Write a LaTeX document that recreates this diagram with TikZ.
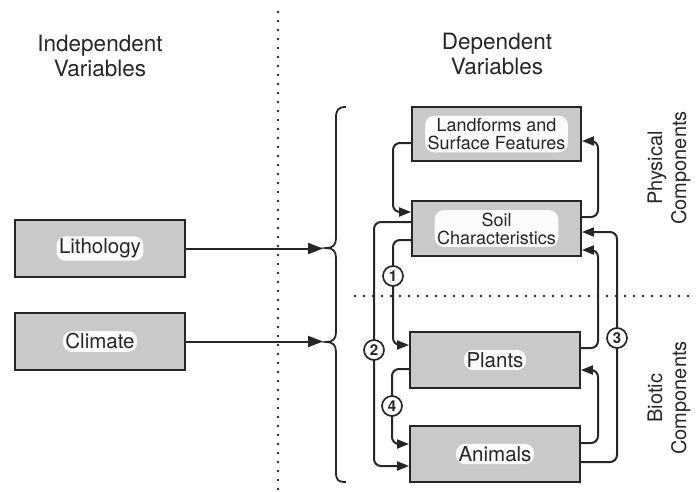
\documentclass[tikz,border=0pt]{standalone}
\usepackage{fontspec}
\setmainfont{TeX Gyre Heros}
\usetikzlibrary{arrows.meta}
\definecolor{ink}{HTML}{262626}
\definecolor{boxfill}{HTML}{C9C9C9}
\tikzset{
  box/.style={draw=ink, line width=1.9pt, fill=boxfill, inner sep=0pt},
  halo/.style={fill=white!93!boxfill, rounded corners=9pt, inner sep=2.5pt, text=ink, align=center},
  conn/.style={draw=ink, line width=2pt, rounded corners=7pt, -{Triangle[length=12pt,width=9pt]}},
  bigarrow/.style={draw=ink, line width=2pt, -{Triangle[length=15pt,width=11pt]}},
  numlabel/.style={circle, draw=ink, line width=1.7pt, fill=white, minimum size=20pt, inner sep=0pt, font=\fontsize{15}{15}\selectfont\bfseries, text=ink},
  dots/.style={draw=ink, line width=2.6pt, line cap=round, dash pattern=on 0pt off 9pt},
  head/.style={text=ink, align=center, font=\fontsize{22.5}{25}\selectfont},
  side/.style={text=ink, align=center, rotate=90, font=\fontsize{20}{24}\selectfont},
  bigtxt/.style={font=\fontsize{20.5}{22}\selectfont},
  smalltxt/.style={font=\fontsize{18}{18}\selectfont}
}
\begin{document}
\begin{tikzpicture}[x=1pt, y=-1pt]
\useasboundingbox (0,0) rectangle (696,491);

% dotted separators
\draw[dots] (278,12) -- (278,491);
\draw[dots] (355,296) -- (696,296);

% headers
\node[head] (indep) at (100,56) {Independent\\Variables};
\node[head] (dep) at (497,54) {Dependent\\Variables};
\node[side] (phys) at (669,168) {Physical\\Components};
\node[side] (biot) at (669,398) {Biotic\\Components};

% boxes
\node[box, minimum width=170pt, minimum height=57pt] (lith) at (100,248.5) {};
\node[box, minimum width=170pt, minimum height=57pt] (clim) at (100,341.5) {};
\node[box, minimum width=169pt, minimum height=54pt] (land) at (496.5,134) {};
\node[box, minimum width=169pt, minimum height=55pt] (soil) at (496.5,228.5) {};
\node[box, minimum width=170pt, minimum height=56pt] (plants) at (495,360) {};
\node[box, minimum width=170pt, minimum height=56pt] (animals) at (495,454) {};

\node[halo, bigtxt] (lithT) at (lith.center) {Lithology};
\node[halo, bigtxt] (climT) at (clim.center) {Climate};
\node[halo, smalltxt] (landT) at (land.center) {Landforms and\\Surface Features};
\node[halo, smalltxt] (soilT) at (soil.center) {Soil\\Characteristics};
\node[halo, bigtxt] (plantsT) at (plants.center) {Plants};
\node[halo, bigtxt] (animalsT) at (animals.center) {Animals};

% brace
\draw[ink, line width=1.8pt]
  (346,107) .. controls (338,107) and (336,110) .. (336,118)
  -- (336,238) .. controls (336,245) and (333,248) .. (326,248)
  .. controls (333,248) and (336,251) .. (336,258)
  -- (336,332) .. controls (336,339) and (333,342) .. (326,342)
  .. controls (333,342) and (336,345) .. (336,352)
  -- (336,472) .. controls (336,480) and (338,482) .. (346,482);

% arrows from independent variables
\coordinate (lithTip) at (323,248.5);
\coordinate (climTip) at (323,341.5);
\draw[bigarrow] (lith.east) -- (lithTip);
\draw[bigarrow] (clim.east) -- (climTip);

% physical feedbacks
\draw[conn] (land.west |- 0,143) -- (393,143) -- (393,212) -- (soil.west |- 0,212);
\draw[conn] (soil.east |- 0,217) -- (598,217) -- (598,141) -- (land.east |- 0,141);

% right side returns
\draw[conn] (animals.east |- 0,462) -- (617,462) -- (617,232) -- (soil.east |- 0,232);
\draw[conn] (plants.east |- 0,348) -- (598,348) -- (598,250) -- (soil.east |- 0,250);
\draw[conn] (animals.east |- 0,443) -- (598,443) -- (598,370) -- (plants.east |- 0,370);

% left side
\draw[conn] (soil.west |- 0,240) -- (393,240) -- (393,345) -- (plants.west |- 0,345);
\draw[conn] (soil.west |- 0,222) -- (374,222) -- (374,466) -- (animals.west |- 0,466);
\draw[conn] (plants.west |- 0,369) -- (392,369) -- (392,444) -- (animals.west |- 0,444);

% numbered labels
\node[numlabel] (n1) at (393,276) {1};
\node[numlabel] (n2) at (374,350) {2};
\node[numlabel] (n3) at (617,338) {3};
\node[numlabel] (n4) at (392,406) {4};
\end{tikzpicture}
\end{document}
